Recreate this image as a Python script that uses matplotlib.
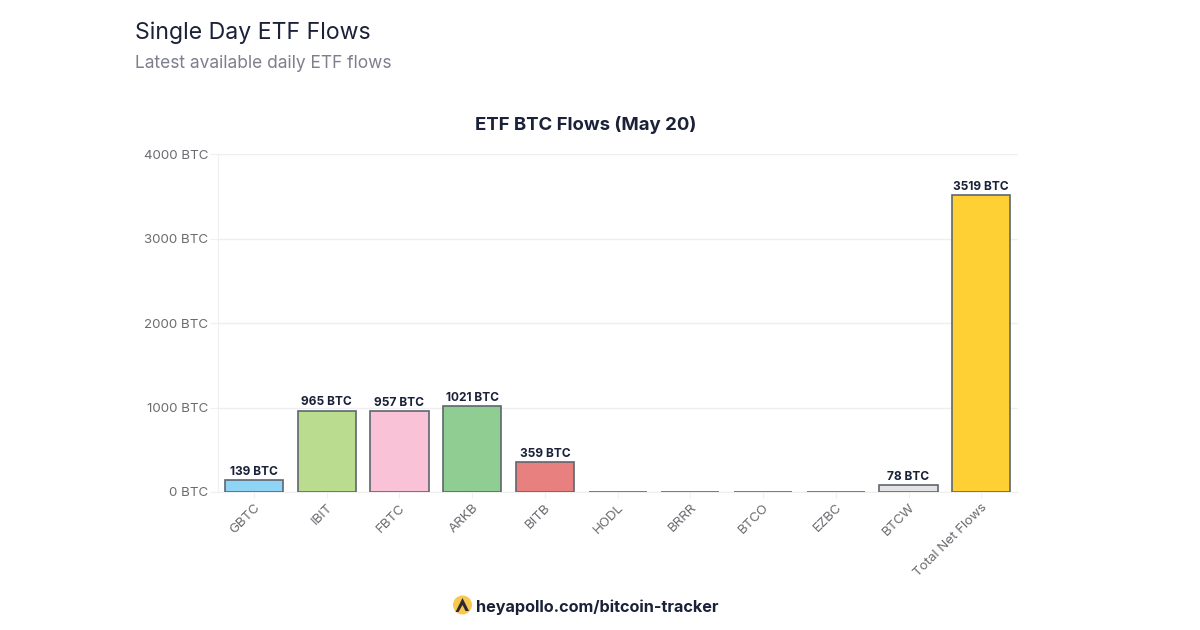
import numpy as np
import matplotlib
matplotlib.use("Agg")
import matplotlib.pyplot as plt
from matplotlib.patches import Circle, Polygon

# Data
tickers = ["GBTC", "IBIT", "FBTC", "ARKB", "BITB", "HODL", "BRRR", "BTCO", "EZBC", "BTCW", "Total Net Flows"]
flows = [139, 965, 957, 1021, 359, 0, 0, 0, 0, 78, 3519]
labels = ["139 BTC", "965 BTC", "957 BTC", "1021 BTC", "359 BTC", "", "", "", "", "78 BTC", "3519 BTC"]
bar_colors = ["#90d4f5", "#b9dc8f", "#f9c2d7", "#90cd92", "#e98080", "#d9d9d9", "#d9d9d9",
              "#d9d9d9", "#d9d9d9", "#e3e3e5", "#ffd033"]
y_ticks = [0, 1000, 2000, 3000, 4000]

plt.rcParams['font.family'] = ['Inter', 'DejaVu Sans']

W, H = 1200, 630
dark = "#1a2138"
grey = "#6b6b70"

fig = plt.figure(figsize=(W / 100, H / 100), dpi=100, facecolor="white")
ax = fig.add_axes([217.6 / W, 1 - 492 / H, 800 / W, 337.8 / H])

x = np.arange(len(tickers))
ax.bar(x, flows, width=0.8, color=bar_colors, edgecolor="#5f6670", linewidth=1.2, zorder=3)

for i in range(len(tickers)):
    if labels[i]:
        ax.annotate(labels[i], (x[i], flows[i]), xytext=(0, 1.5), textcoords="offset points",
                    ha="center", va="bottom", fontsize=8.6, fontweight="bold", color=dark, zorder=4)

ax.set_xlim(-0.5, len(tickers) - 0.5)
ax.set_ylim(0, 4000)
ax.set_yticks(y_ticks)
ax.set_yticklabels([f"{v} BTC" for v in y_ticks], fontsize=9.6, color=grey)
ax.set_xticks(x)
ax.set_xticklabels(tickers, fontsize=9.6, color=grey, rotation=45, ha="right",
                   rotation_mode="anchor")
ax.tick_params(axis="y", length=6, width=0.8, color="#f0f0f0", pad=1)
ax.tick_params(axis="x", length=4, width=0.8, color="#f0f0f0", pad=3)
ax.grid(axis="y", color="#efefef", linewidth=1, zorder=0)
ax.set_axisbelow(True)
for side in ["top", "right"]:
    ax.spines[side].set_visible(False)
ax.spines["left"].set_color("#efefef")
ax.spines["bottom"].set_color("#efefef")

# Headings
fig.text(135 / W, 1 - 33 / H, "Single Day ETF Flows", fontsize=16.6, color=dark, va="center")
fig.text(135 / W, 1 - 63 / H, "Latest available daily ETF flows", fontsize=12.5, color="#7d7f8c", va="center")
fig.text(586 / W, 1 - 125 / H, "ETF BTC Flows (May 20)", fontsize=13.4, fontweight="bold", color=dark,
         ha="center", va="center")

# Footer with logo
fig.text(476 / W, 1 - 607.5 / H, "heyapollo.com/bitcoin-tracker", fontsize=11.7, fontweight="bold",
         color=dark, ha="left", va="center")
overlay = fig.add_axes([0, 0, 1, 1], facecolor="none")
overlay.set_xlim(0, W)
overlay.set_ylim(H, 0)
overlay.axis("off")
overlay.add_patch(Circle((462.5, 605), 9.5, color="#f9c74f", lw=0))
overlay.add_patch(Polygon([(462.5, 598), (469, 611), (465.5, 611), (462.5, 605), (458.5, 612), (455.5, 612)],
                          closed=True, color="#2a2a33", lw=0))

fig.savefig("out.png", dpi=100, facecolor="white")
